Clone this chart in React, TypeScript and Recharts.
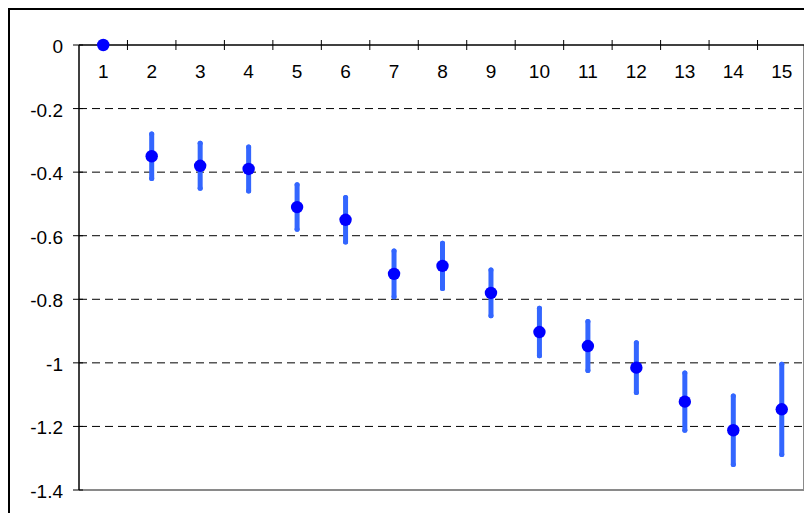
import React from "react";
import {
  CartesianGrid,
  ComposedChart,
  ErrorBar,
  Scatter,
  XAxis,
  YAxis,
} from "recharts";

// categories 1..15 along the top axis
const CATEGORIES = [1, 2, 3, 4, 5, 6, 7, 8, 9, 10, 11, 12, 13, 14, 15];
// mean values
const MEANS = [
  0, -0.35, -0.38, -0.39, -0.51, -0.55, -0.72, -0.695, -0.78, -0.903, -0.947,
  -1.015, -1.122, -1.212, -1.146,
];
// half-length of each error bar
const ERRORS = [
  0, 0.07, 0.071, 0.069, 0.07, 0.07, 0.072, 0.071, 0.072, 0.075, 0.077, 0.078,
  0.09, 0.108, 0.142,
];
const Y_TICKS = [0, -0.2, -0.4, -0.6, -0.8, -1, -1.2, -1.4];
const X_BOUNDS = [1.5, 2.5, 3.5, 4.5, 5.5, 6.5, 7.5, 8.5, 9.5, 10.5, 11.5, 12.5, 13.5, 14.5, 15.5];

const data = CATEGORIES.map((c, i) => ({ x: c, y: MEANS[i], err: ERRORS[i] }));

const FONT = "'Liberation Sans', Arial, sans-serif";
const BORDER = "#8a8a8a";

const XBoundTick = (props: any) => {
  const { x, y } = props;
  return <line x1={x} x2={x} y1={y - 5} y2={y + 5} stroke="#000" strokeWidth={1} />;
};

const XLabelTick = (props: any) => {
  const { x, y, payload } = props;
  return (
    <text x={x} y={y + 34} textAnchor="middle" fontSize={19} fontFamily={FONT} fill="#000">
      {payload.value}
    </text>
  );
};

const YTick = (props: any) => {
  const { x, y, payload } = props;
  return (
    <g>
      <line x1={x - 6} x2={x + 4} y1={y} y2={y} stroke="#000" strokeWidth={1} />
      <text x={x - 16} y={y + 8} textAnchor="end" fontSize={19} fontFamily={FONT} fill="#000">
        {String(payload.value)}
      </text>
    </g>
  );
};

// grid rows: top row is the axis, bottom row is the gray plot frame (with right side)
const GridRow = (props: any) => {
  const { x1, x2, y1, y, index } = props;
  if (index === 0) return <g />;
  if (index === Y_TICKS.length - 1) {
    const top = typeof y === "number" ? y : y1 - 445;
    return (
      <g>
        <line x1={x1} x2={x2} y1={y1} y2={y1} stroke={BORDER} strokeWidth={2} />
        <line x1={x2 - 2} x2={x2 - 2} y1={top} y2={y1} stroke={BORDER} strokeWidth={2} />
      </g>
    );
  }
  return <line x1={x1} x2={x2} y1={y1} y2={y1} stroke="#000" strokeWidth={1} strokeDasharray="8 5" />;
};

const Dot = (props: any) => {
  const { cx, cy } = props;
  return <circle cx={cx} cy={cy} r={6.2} fill="#0000ff" />;
};

const Nothing = () => <g />;

export default function App() {
  return (
    <div
      style={{
        borderTop: "2px solid #000",
        borderLeft: "2px solid #000",
        width: 800,
        height: 503,
        overflow: "hidden",
      }}
    >
      <ComposedChart
        width={800}
        height={503}
        data={data}
        margin={{ top: 33, right: 4, left: 0, bottom: 23 }}
      >
        <CartesianGrid
          vertical={false}
          stroke="#000"
          horizontal={<GridRow />}
          syncWithTicks
        />
        <XAxis
          xAxisId={0}
          type="number"
          dataKey="x"
          orientation="top"
          domain={[0.5, 15.5]}
          ticks={X_BOUNDS}
          interval={0}
          height={1}
          tickSize={0}
          tickMargin={0}
          tickLine={false}
          axisLine={{ stroke: "#000", strokeWidth: 1.5 }}
          tick={<XBoundTick />}
        />
        <XAxis
          xAxisId="l"
          type="number"
          dataKey="x"
          orientation="top"
          domain={[0.5, 15.5]}
          ticks={CATEGORIES}
          interval={0}
          height={1}
          tickSize={0}
          tickMargin={0}
          tickLine={false}
          axisLine={false}
          tick={<XLabelTick />}
        />
        <YAxis
          type="number"
          domain={[-1.4, 0]}
          ticks={Y_TICKS}
          interval={0}
          width={69}
          tickSize={0}
          tickMargin={0}
          tickLine={false}
          axisLine={{ stroke: "#000", strokeWidth: 1.5 }}
          tick={<YTick />}
        />
        <Scatter dataKey="y" shape={<Nothing />} isAnimationActive={false}>
          <ErrorBar
            dataKey="err"
            direction="y"
            width={0}
            stroke="#3366ff"
            strokeWidth={5}
            strokeLinecap="round"
            isAnimationActive={false}
          />
        </Scatter>
        <Scatter dataKey="y" shape={<Dot />} isAnimationActive={false} />
      </ComposedChart>
    </div>
  );
}
